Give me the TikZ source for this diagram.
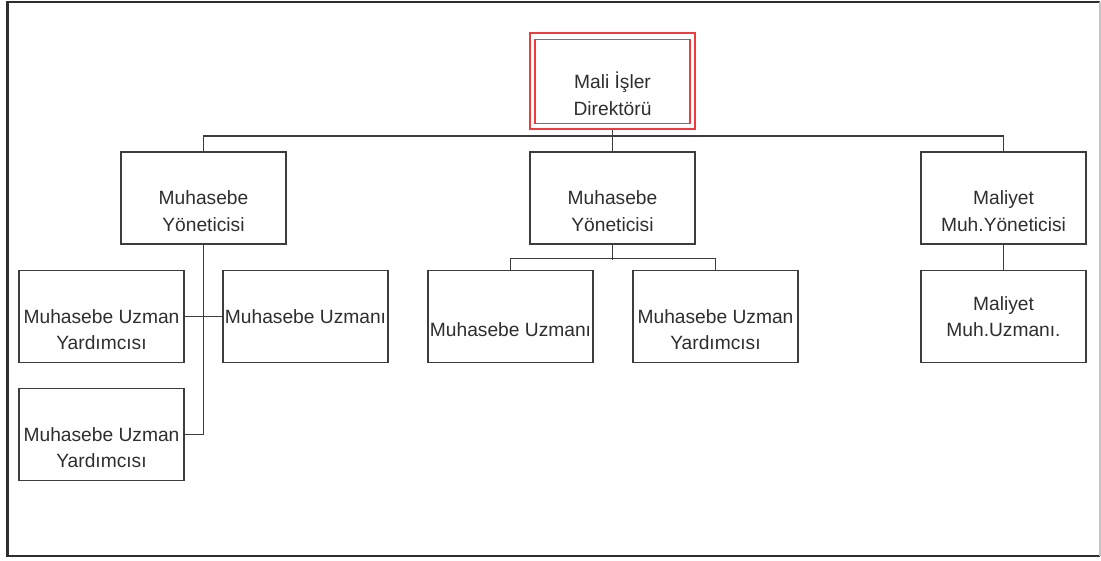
\documentclass[tikz,border=0pt]{standalone}
\usepackage{fontspec}
\setmainfont{Liberation Sans}
\definecolor{ink}{HTML}{2E2E2E}
\definecolor{edge}{HTML}{3C3C3C}
\definecolor{wire}{HTML}{3C3C3C}
\definecolor{hilite}{HTML}{EE3B3B}
\definecolor{frameR}{HTML}{C4C4C4}
\begin{document}
\begin{tikzpicture}[x=0.75pt,y=-0.75pt,
  unit/.style={draw=edge, line width=1.35pt, fill=white, inner sep=0pt,
    minimum width=123.75pt, minimum height=69pt},
  txt/.style={text=ink, align=center, inner sep=0pt,
    font=\fontsize{14.4}{19.9}\selectfont},
  wire/.style={draw=wire, line width=1.3pt}]
  \useasboundingbox (0,0) rectangle (1101,561);
  % outer frame
  \draw[line width=1.6pt, draw=ink] (1100,556) -- (7.5,556) -- (7.5,2) -- (1100,2);
  \draw[line width=1.6pt, draw=frameR] (1100,2) -- (1100,556);

  % director with double red border
  \node[draw=hilite, line width=1.2pt, inner sep=0pt,
        minimum width=123.75pt, minimum height=72pt] (dir) at (612.5,81) {};
  \node[draw=hilite, line width=1.2pt, inner sep=0pt,
        minimum width=116pt, minimum height=63pt] (dirin) at (612.5,81.5) {};
  \node[txt] (dirt) at (612.5,94) {Mali İşler\\Direktörü};

  % managers
  \node[unit] (lm) at (203.5,198) {};
  \node[txt] (lmt) at (203.5,211) {Muhasebe\\Yöneticisi};
  \node[unit] (mm) at (612.5,198) {};
  \node[txt] (mmt) at (612.5,211) {Muhasebe\\Yöneticisi};
  \node[unit] (rm) at (1003.5,198) {};
  \node[txt] (rmt) at (1003.5,211) {Maliyet\\Muh.Yöneticisi};

  % staff boxes
  \node[unit] (a) at (101.5,316.5) {};
  \node[txt] (at) at (101.5,329.5) {Muhasebe Uzman\\Yardımcısı};
  \node[unit] (b) at (305.5,316.5) {};
  \node[txt] (bt) at (305.5,316.5) {Muhasebe Uzmanı};
  \node[unit] (c) at (101.5,434.5) {};
  \node[txt] (ct) at (101.5,447.5) {Muhasebe Uzman\\Yardımcısı};
  \node[unit] (d) at (510.5,316.5) {};
  \node[txt] (dt) at (510.5,329.5) {Muhasebe Uzmanı};
  \node[unit] (e) at (715.5,316.5) {};
  \node[txt] (et) at (715.5,329.5) {Muhasebe Uzman\\Yardımcısı};
  \node[unit] (rc) at (1003.5,316.5) {};
  \node[txt] (rct) at (1003.5,316.5) {Maliyet\\Muh.Uzmanı.};

  % top-level bus
  \draw[wire] (lm.north) -- ++(0,-15) coordinate (busL) -| (rm.north);
  \draw[wire] (mm.north) -- (mm.north |- busL);
  \draw[wire] (dir.south) -- (dir.south |- busL);

  % left branch
  \draw[wire] (lm.south) -- (lm.south |- c.east) -- (c.east);
  \draw[wire] (a.east) -- (b.west);

  % middle branch
  \draw[wire] (mm.south) -- ++(0,15);
  \draw[wire] (d.north) -- ++(0,-11) -| (e.north);

  % right branch
  \draw[wire] (rm.south) -- (rc.north);
\end{tikzpicture}
\end{document}
